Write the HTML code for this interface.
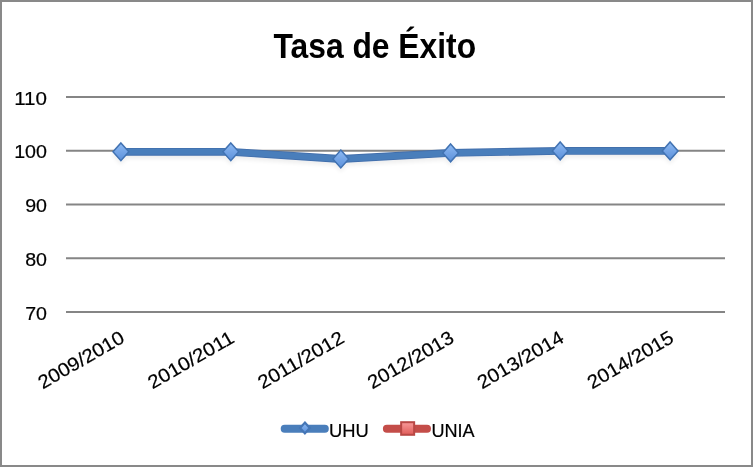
<!DOCTYPE html>
<html lang="es">
<head>
<meta charset="utf-8">
<title>Tasa de Éxito</title>
<style>
  html, body { margin: 0; padding: 0; background: #ffffff; }
  body { width: 753px; height: 467px; overflow: hidden; }
  svg { display: block; }
  text { font-family: "Liberation Sans", sans-serif; fill: #000000; }
  .title { font-weight: bold; font-size: 35.5px; }
  .lbl { font-size: 19px; stroke: #000000; stroke-width: 0.2px; }
</style>
</head>
<body>
<svg width="753" height="467" viewBox="0 0 753 467">
  <defs>
    <linearGradient id="gBlue" x1="0" y1="0" x2="0" y2="1">
      <stop offset="0" stop-color="#8ebaf3"/>
      <stop offset="1" stop-color="#5b90da"/>
    </linearGradient>
    <linearGradient id="gRed" x1="0" y1="0" x2="0" y2="1">
      <stop offset="0" stop-color="#f89a9a"/>
      <stop offset="1" stop-color="#e05c59"/>
    </linearGradient>
    <filter id="sh" x="-10%" y="-50%" width="120%" height="250%">
      <feGaussianBlur in="SourceAlpha" stdDeviation="2.2"/>
      <feOffset dx="0" dy="2.5" result="b"/>
      <feComponentTransfer><feFuncA type="linear" slope="0.07"/></feComponentTransfer>
      <feMerge><feMergeNode/><feMergeNode in="SourceGraphic"/></feMerge>
    </filter>
  </defs>

  <!-- background and outer border -->
  <rect x="0" y="0" width="753" height="467" fill="#ffffff"/>
  <rect x="1" y="1" width="751" height="465" fill="none" stroke="#898989" stroke-width="2"/>

  <!-- title -->
  <text class="title" x="374.8" y="57.8" text-anchor="middle" textLength="202.5" lengthAdjust="spacingAndGlyphs">Tasa de Éxito</text>

  <!-- gridlines -->
  <g stroke="#858585" stroke-width="2">
    <line x1="66" y1="97" x2="725" y2="97"/>
    <line x1="66" y1="150.75" x2="725" y2="150.75"/>
    <line x1="66" y1="204.5" x2="725" y2="204.5"/>
    <line x1="66" y1="258.25" x2="725" y2="258.25"/>
    <line x1="66" y1="312" x2="725" y2="312"/>
  </g>

  <!-- y axis labels -->
  <g class="lbl" text-anchor="end">
    <text x="47" y="104.6" textLength="32.8" lengthAdjust="spacingAndGlyphs">110</text>
    <text x="47" y="158.4" textLength="32.8" lengthAdjust="spacingAndGlyphs">100</text>
    <text x="47" y="212.1" textLength="21.8" lengthAdjust="spacingAndGlyphs">90</text>
    <text x="47" y="265.9" textLength="21.8" lengthAdjust="spacingAndGlyphs">80</text>
    <text x="47" y="319.6" textLength="21.8" lengthAdjust="spacingAndGlyphs">70</text>
  </g>

  <!-- series UHU -->
  <g filter="url(#sh)">
    <polyline points="120.9,151.8 230.7,151.8 340.6,159 450.4,152.9 560.2,150.9 670.1,150.9"
              fill="none" stroke="#426fac" stroke-width="7.8" stroke-linejoin="round" stroke-linecap="round"/>
    <polyline points="120.9,151.8 230.7,151.8 340.6,159 450.4,152.9 560.2,150.9 670.1,150.9"
              fill="none" stroke="#4a7ebb" stroke-width="6" stroke-linejoin="round" stroke-linecap="round"/>
    <g fill="url(#gBlue)" stroke="#4172b2" stroke-width="1.5" stroke-linejoin="miter">
      <path d="M120.9 142.9 L128.8 151.8 L120.9 160.7 L113.0 151.8 Z"/>
      <path d="M230.8 142.9 L238.7 151.8 L230.8 160.7 L222.9 151.8 Z"/>
      <path d="M340.8 150.1 L348.7 159.0 L340.8 167.9 L332.9 159.0 Z"/>
      <path d="M450.6 144.0 L458.5 152.9 L450.6 161.8 L442.7 152.9 Z"/>
      <path d="M560.2 142.0 L568.1 150.9 L560.2 159.8 L552.3 150.9 Z"/>
      <path d="M670.1 142.0 L678.0 150.9 L670.1 159.8 L662.2 150.9 Z"/>
    </g>
  </g>

  <!-- x axis labels -->
  <g class="lbl" text-anchor="end">
    <text transform="translate(125.9 341.4) rotate(-30)" textLength="96" lengthAdjust="spacingAndGlyphs">2009/2010</text>
    <text transform="translate(235.7 341.4) rotate(-30)" textLength="96" lengthAdjust="spacingAndGlyphs">2010/2011</text>
    <text transform="translate(345.6 341.4) rotate(-30)" textLength="96" lengthAdjust="spacingAndGlyphs">2011/2012</text>
    <text transform="translate(455.4 341.4) rotate(-30)" textLength="96" lengthAdjust="spacingAndGlyphs">2012/2013</text>
    <text transform="translate(565.2 341.4) rotate(-30)" textLength="96" lengthAdjust="spacingAndGlyphs">2013/2014</text>
    <text transform="translate(675.1 341.4) rotate(-30)" textLength="96" lengthAdjust="spacingAndGlyphs">2014/2015</text>
  </g>

  <!-- legend -->
  <g>
    <line x1="284.7" y1="428.8" x2="324.8" y2="428.8" stroke="#4a7ebb" stroke-width="8" stroke-linecap="round"/>
    <path d="M304.9 422.6 L309.7 428 L304.9 433.4 L300.1 428 Z" fill="url(#gBlue)" stroke="#4576b6" stroke-width="2.2"/>
    <text class="lbl" x="328.9" y="436.8" textLength="39.8" lengthAdjust="spacingAndGlyphs">UHU</text>

    <line x1="386.9" y1="428.8" x2="427" y2="428.8" stroke="#c44d49" stroke-width="8" stroke-linecap="round"/>
    <rect x="401.15" y="422.2" width="13" height="12.6" fill="url(#gRed)" stroke="#b94845" stroke-width="2"/>
    <text class="lbl" x="431.4" y="436.8" textLength="43.2" lengthAdjust="spacingAndGlyphs">UNIA</text>
  </g>
</svg>
</body>
</html>
